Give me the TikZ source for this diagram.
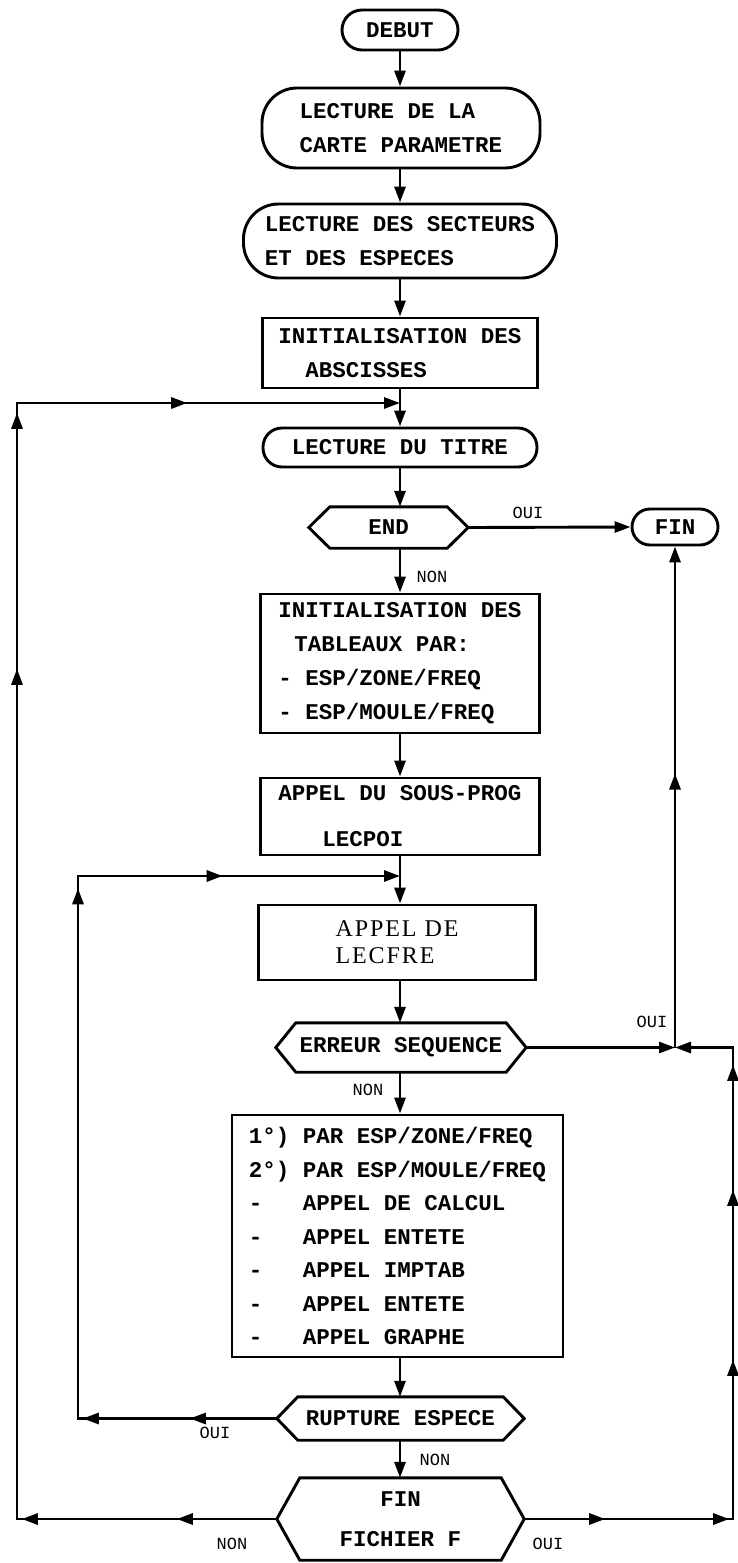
\documentclass[tikz,border=0pt]{standalone}
\usepackage{fontspec}
\setmonofont{Liberation Mono}
\newfontfamily\lblfont{Liberation Mono}
\newfontfamily\serifw[LetterSpace=8]{Liberation Serif}
\usetikzlibrary{arrows.meta,calc,decorations.markings}
\newcommand{\tipA}{\arrow{Triangle[length=16pt,width=11pt]}}
\newcommand{\hexshape}[2]{%
  \coordinate (#1-r) at ($(#1.east)+(#2,0)$);
  \coordinate (#1-l) at ($(#1.west)-(#2,0)$);
  \draw[ln,line join=miter] (#1.north west) -- (#1.north east) -- (#1-r) -- (#1.south east) -- (#1.south west) -- (#1-l) -- cycle;}
\tikzset{
  ln/.style={line width=2.9pt},
  arr/.style={ln,-{Triangle[length=16pt,width=11pt]}},
  tfont/.style={font=\ttfamily\bfseries\fontsize{22.5}{34}\selectfont},
  boxn/.style={draw,ln,rectangle,align=left,tfont,inner sep=0pt},
  stad/.style={boxn,rounded corners=#1},
  hexn/.style={rectangle,align=center,tfont,inner sep=0pt},
  lbl/.style={font=\lblfont\fontsize{17}{20}\selectfont},
  marks/.style={postaction={decorate},decoration={markings,#1}}
}
\begin{document}
\begin{tikzpicture}[x=1pt,y=-1pt]
\useasboundingbox (0,0) rectangle (737,1563);

% main column
\node[stad=20pt,minimum width=116pt,minimum height=40pt] (debut) at (400,30) {DEBUT};
\node[stad=35pt,minimum width=278pt,minimum height=80pt] (lect1) at (401,128) {LECTURE DE LA\\CARTE PARAMETRE};
\node[stad=35pt,minimum width=313pt,minimum height=74pt] (lect2) at (400,241) {LECTURE DES SECTEURS\\ET DES ESPECES};
\node[boxn,minimum width=275pt,minimum height=70pt] (init1) at (400,353) {INITIALISATION DES\\\hspace*{27pt}ABSCISSES};
\node[stad=19pt,minimum width=274pt,minimum height=39pt] (titre) at (400,447.5) {LECTURE DU TITRE};
\node[hexn,minimum width=117pt,minimum height=41pt] (end) at (388.5,527.5) {END};
\hexshape{end}{21}
\node[stad=18pt,minimum width=86pt,minimum height=36pt] (fin) at (675,527) {FIN};
\node[boxn,minimum width=279pt,minimum height=139pt] (init2) at (400,663.5) {INITIALISATION DES\\\hspace*{16pt}TABLEAUX PAR:\\- ESP/ZONE/FREQ\\- ESP/MOULE/FREQ};
\node[boxn,minimum width=279pt,minimum height=77pt] (app1) at (400,816.5) {APPEL DU SOUS-PROG\\[12pt]\hspace*{44pt}LECPOI};
\node[boxn,minimum width=277pt,minimum height=75pt,font=\serifw\fontsize{24}{27}\selectfont] (app2) at (397,942.5) {APPEL DE\\LECFRE};
\node[hexn,minimum width=210pt,minimum height=49pt] (err) at (401,1047.5) {ERREUR SEQUENCE};
\hexshape{err}{20}
\node[boxn,minimum width=331pt,minimum height=242pt,font=\ttfamily\bfseries\fontsize{22.5}{33.5}\selectfont] (big) at (397.5,1236)
  {1°) PAR ESP/ZONE/FREQ\\2°) PAR ESP/MOULE/FREQ\\-\hspace*{40.5pt}APPEL DE CALCUL\\-\hspace*{40.5pt}APPEL ENTETE\\-\hspace*{40.5pt}APPEL IMPTAB\\-\hspace*{40.5pt}APPEL ENTETE\\-\hspace*{40.5pt}APPEL GRAPHE};
\node[hexn,minimum width=205pt,minimum height=43pt] (rupt) at (400.5,1418.5) {RUPTURE ESPECE};
\hexshape{rupt}{21}
\node[hexn,minimum width=201pt,minimum height=82pt,font=\ttfamily\bfseries\fontsize{22.5}{40}\selectfont] (finf) at (400.5,1519) {FIN\\FICHIER F};
\hexshape{finf}{23}

% helper coordinates
\coordinate (ax) at (400,0);
\coordinate (j1) at (400,403);
\coordinate (j2) at (400,876);
\coordinate (k) at (675,1047.5);
\coordinate (l1b) at (17,1519);
\coordinate (l1t) at (17,403);
\coordinate (l2b) at (78,1418.5);
\coordinate (l2t) at (78,876);
\coordinate (r1) at (733,1519);
\coordinate (r2) at (733,1047.5);

% main vertical connectors
\draw[arr] (debut.south) -- (ax |- lect1.north);
\draw[arr] (ax |- lect1.south) -- (lect2.north);
\draw[arr] (lect2.south) -- (init1.north);
\draw[arr] (init1.south) -- (titre.north);
\draw[arr] (titre.south) -- (ax |- end.north);
\draw[arr] (ax |- end.south) -- (init2.north);
\draw[arr] (init2.south) -- (app1.north);
\draw[arr] (app1.south) -- (ax |- app2.north);
\draw[arr] (ax |- app2.south) -- (ax |- err.north);
\draw[arr] (ax |- err.south) -- (ax |- big.north);
\draw[arr] (ax |- big.south) -- (ax |- rupt.north);
\draw[arr] (ax |- rupt.south) -- (ax |- finf.north);

% END -> FIN
\draw[arr] (end-r) -- (fin.west);

% outer left loop
\draw[arr,marks={mark=at position 100pt with {\tipA},mark=at position 255pt with {\tipA},mark=at position 1110pt with {\tipA},mark=at position 1366pt with {\tipA},mark=at position 1546pt with {\tipA}}]
  (finf-l) -- (l1b) -- (l1t) -- (j1);

% inner left loop
\draw[arr,marks={mark=at position 87pt with {\tipA},mark=at position 194pt with {\tipA},mark=at position 729pt with {\tipA},mark=at position 886pt with {\tipA}}]
  (rupt-l) -- (l2b) -- (l2t) -- (j2);

% right side
\draw[arr] (err-r) -- (k);
\draw[arr,marks={mark=at position 81pt with {\tipA},mark=at position 205pt with {\tipA},mark=at position 368pt with {\tipA},mark=at position 538pt with {\tipA},mark=at position 663pt with {\tipA}}]
  (finf-r) -- (r1) -- (r2) -- (k);
\draw[arr,marks={mark=at position 274pt with {\tipA}}] (k) -- (fin.south);

% labels
\node[lbl] (oui1) at (528,513) {OUI};
\node[lbl] (non1) at (432,577) {NON};
\node[lbl] (oui2) at (652,1022) {OUI};
\node[lbl] (non2) at (368,1090) {NON};
\node[lbl] (oui3) at (215,1433) {OUI};
\node[lbl] (non3) at (435,1460) {NON};
\node[lbl] (non4) at (232,1544) {NON};
\node[lbl] (oui4) at (548,1544) {OUI};
\end{tikzpicture}
\end{document}
